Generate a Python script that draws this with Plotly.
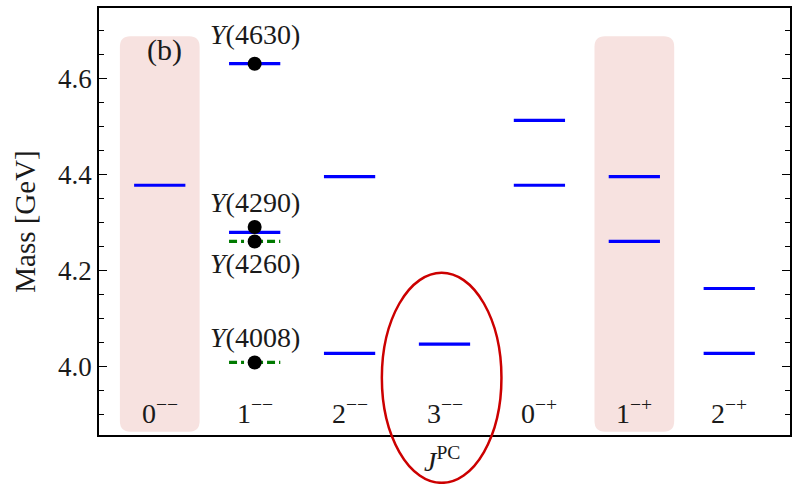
import plotly.graph_objects as go

# ---------------- data ----------------
jpc_labels = ["0<sup>−−</sup>", "1<sup>−−</sup>", "2<sup>−−</sup>", "3<sup>−−</sup>",
              "0<sup>−+</sup>", "1<sup>−+</sup>", "2<sup>−+</sup>"]
theory_cat = [0, 1, 1, 2, 2, 3, 4, 4, 5, 5, 6, 6]
theory_mass = [4.377, 4.630, 4.279, 4.395, 4.027, 4.046, 4.512, 4.377, 4.395, 4.260, 4.162, 4.027]
green_cat = [1, 1]
green_mass = [4.260, 4.008]
exp_names = ["<i>Y</i>(4630)", "<i>Y</i>(4290)", "<i>Y</i>(4260)", "<i>Y</i>(4008)"]
exp_cat = [1, 1, 1, 1]
exp_mass = [4.630, 4.290, 4.260, 4.008]
exp_label_mass = [4.690, 4.342, 4.214, 4.060]
highlight_cats = [0, 5]
circled_cat = 3
panel_label = "(b)"

FONT = "Liberation Serif"
TXT = "#1a1a1a"
HW = 0.27  # half width of level lines


def segs(cats, vals):
    xs, ys = [], []
    for c, v in zip(cats, vals):
        xs += [c - HW, c + HW, None]
        ys += [v, v, None]
    return xs, ys


fig = go.Figure()

bx, by = segs(theory_cat, theory_mass)
fig.add_trace(go.Scatter(x=bx, y=by, mode="lines",
                         line=dict(color="#0000ff", width=3.2), hoverinfo="skip", showlegend=False))
gx, gy = segs(green_cat, green_mass)
fig.add_trace(go.Scatter(x=gx, y=gy, mode="lines",
                         line=dict(color="#007a00", width=3.2, dash="8px,4px,3px,4px"),
                         hoverinfo="skip", showlegend=False))
fig.add_trace(go.Scatter(x=exp_cat, y=exp_mass, mode="markers",
                         marker=dict(color="black", size=14), hoverinfo="skip", showlegend=False))


def rounded_rect(x0, x1, y0, y1, rx, ry):
    return (f"M {x0+rx},{y0} L {x1-rx},{y0} Q {x1},{y0} {x1},{y0+ry} "
            f"L {x1},{y1-ry} Q {x1},{y1} {x1-rx},{y1} L {x0+rx},{y1} "
            f"Q {x0},{y1} {x0},{y1-ry} L {x0},{y0+ry} Q {x0},{y0} {x0+rx},{y0} Z")


shapes = []
for c in highlight_cats:
    shapes.append(dict(type="path", xref="x", yref="y", layer="below",
                       path=rounded_rect(c - 0.42, c + 0.42, 3.864, 4.687, 0.11, 0.022),
                       fillcolor="#f7e2e0", line=dict(width=0)))
shapes.append(dict(type="circle", xref="x", yref="paper",
                   x0=circled_cat - 0.66, x1=circled_cat + 0.60, y0=-0.112, y1=0.38,
                   line=dict(color="#cc0000", width=2.5)))

annotations = []
for i, lab in enumerate(jpc_labels):
    annotations.append(dict(x=i, y=3.905, xref="x", yref="y", text=lab, showarrow=False,
                            font=dict(family=FONT, size=28, color=TXT), yanchor="middle"))
for n, c, m in zip(exp_names, exp_cat, exp_label_mass):
    annotations.append(dict(x=c, y=m, xref="x", yref="y", text=n, showarrow=False,
                            font=dict(family=FONT, size=28, color=TXT), yanchor="middle"))
annotations.append(dict(x=0.05, y=4.659, xref="x", yref="y", text=panel_label, showarrow=False,
                        font=dict(family=FONT, size=30, color=TXT), yanchor="middle"))
annotations.append(dict(x=2.97, y=-0.058, xref="x", yref="paper", text="<i>J</i><sup>PC</sup>",
                        showarrow=False, font=dict(family=FONT, size=28, color=TXT),
                        yanchor="middle"))

fig.update_layout(
    width=798, height=484,
    margin=dict(l=99, r=6, t=6, b=49),
    paper_bgcolor="white", plot_bgcolor="white",
    shapes=shapes, annotations=annotations,
    font=dict(family=FONT, color=TXT),
    xaxis=dict(range=[-0.64, 6.64], showticklabels=False, ticks="", showgrid=False,
               zeroline=False, showline=True, linecolor="black", linewidth=1.5, mirror=True),
    yaxis=dict(range=[3.857, 4.746], tickvals=[4.0, 4.2, 4.4, 4.6], tickformat=".1f",
               ticks="inside", ticklen=8, tickwidth=1.3, tickcolor="black",
               minor=dict(dtick=0.05, tick0=4.0, ticks="inside", ticklen=5, tickwidth=1.3,
                          tickcolor="black", showgrid=False),
               showgrid=False, zeroline=False, showline=True, linecolor="black", linewidth=1.5,
               mirror="ticks", tickfont=dict(family=FONT, size=27, color=TXT),
               title=dict(text="Mass [GeV]", font=dict(family=FONT, size=29, color=TXT),
                          standoff=14)),
)

fig.write_html("out.html")
